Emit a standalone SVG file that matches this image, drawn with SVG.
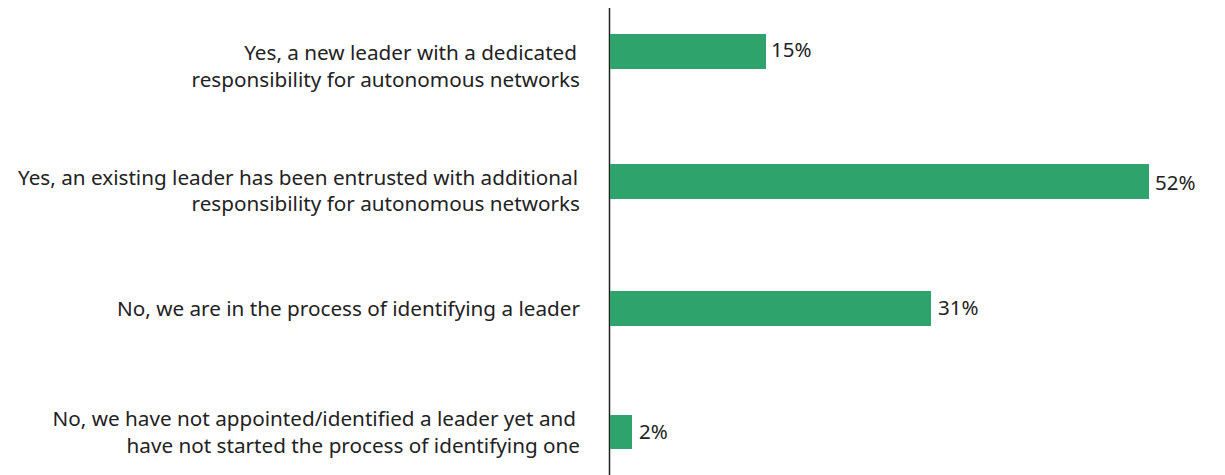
<svg xmlns="http://www.w3.org/2000/svg" width="1225" height="475" viewBox="0 0 1225 475">
<style>
.lbl{font-family:"Noto Sans","Liberation Sans",sans-serif;font-size:20.7px;fill:#222;text-anchor:end}
.val{font-family:"Noto Sans","Liberation Sans",sans-serif;font-size:20.5px;fill:#222}
.bar{fill:#2ea36b}
</style>
<rect width="1225" height="475" fill="#fff"/>
<g id="axis"><line x1="609.5" y1="8" x2="609.5" y2="475" stroke="#222" stroke-width="1.5"/></g>
<g id="row1">
<rect class="bar" x="610" y="34" width="156" height="35"/>
<text class="lbl" x="577" y="60">Yes, a new leader with a dedicated</text>
<text class="lbl" x="580" y="87">responsibility for autonomous networks</text>
<text class="val" x="771" y="57">15%</text>
</g>
<g id="row2">
<rect class="bar" x="610" y="164" width="539" height="35"/>
<text class="lbl" x="578" y="185">Yes, an existing leader has been entrusted with additional</text>
<text class="lbl" x="580" y="211">responsibility for autonomous networks</text>
<text class="val" x="1155" y="190">52%</text>
</g>
<g id="row3">
<rect class="bar" x="610" y="291" width="321" height="35"/>
<text class="lbl" x="580" y="316">No, we are in the process of identifying a leader</text>
<text class="val" x="938" y="315">31%</text>
</g>
<g id="row4">
<rect class="bar" x="610" y="415" width="22" height="34"/>
<text class="lbl" x="576" y="426">No, we have not appointed/identified a leader yet and</text>
<text class="lbl" x="580" y="453">have not started the process of identifying one</text>
<text class="val" x="639" y="439">2%</text>
</g>
</svg>
